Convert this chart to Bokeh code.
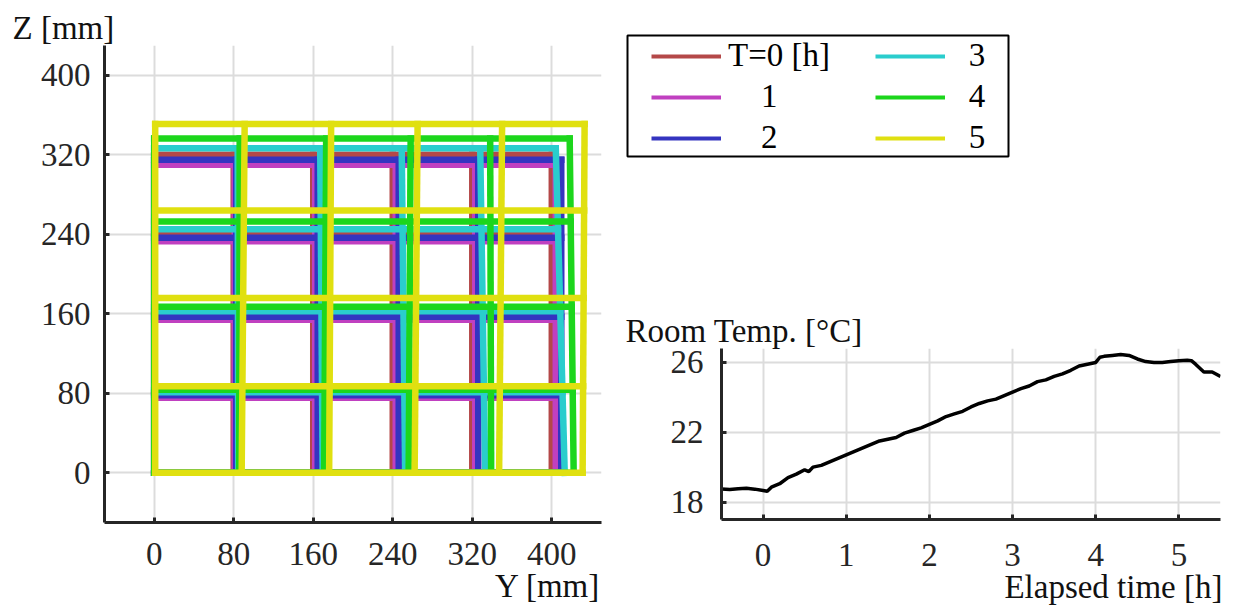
from bokeh.plotting import figure
from bokeh.models import Range1d, FixedTicker, Title, Legend, LegendItem
from bokeh.layouts import row, column
from bokeh.embed import file_html
from bokeh.resources import INLINE

FONT = "Liberation Serif"
INK = "#262626"

# ---------------- data: deformed frame (left panel) ----------------
series_labels = ["T=0 [h]", "1", "2", "3", "4", "5"]
series_colors = ["#b44848", "#c040c0", "#3434c0", "#2acdcd", "#1cd61c", "#e0e010"]

# Y [mm] of each vertical frame line at its bottom (Z=0) and at its top floor
t0_cols_bottom = [0, 80, 160, 240, 320, 400]
t0_cols_top = [0, 80, 160, 240, 320, 400]
t1_cols_bottom = [0, 81, 162, 243, 323, 404]
t1_cols_top = [0, 81, 162, 243, 323, 404]
t2_cols_bottom = [0, 82.5, 164.5, 246, 326, 409.5]
t2_cols_top = [0, 82.5, 164.5, 246, 326, 409.5]
t3_cols_bottom = [0, 84.5, 169.5, 252.5, 333, 413]
t3_cols_top = [0, 84, 167, 249, 328, 404]
t4_cols_bottom = [0, 85.5, 171, 256, 339, 422]
t4_cols_top = [0, 86, 173, 258, 338, 418]
t5_cols_bottom = [1, 88, 176, 262, 347, 431]
t5_cols_top = [1, 91, 178, 265, 350, 433]

# Z [mm] of each floor line
t0_floors = [0, 80, 160, 240, 320]
t1_floors = [0, 75.5, 154, 233, 310]
t2_floors = [0, 78, 157, 236.5, 315]
t3_floors = [0, 81, 162.5, 245, 326.5]
t4_floors = [0, 83.5, 167, 253, 336.5]
t5_floors = [0, 87, 176, 264, 351]

yz_ticks = [0, 80, 160, 240, 320, 400]

# ---------------- data: room temperature (right panel) ----------------
time_h = [-0.5, -0.4, -0.3, -0.2, -0.1, 0.0, 0.05, 0.1, 0.2, 0.3, 0.4, 0.5, 0.55,
          0.6, 0.7, 0.8, 0.9, 1.0, 1.1, 1.2, 1.3, 1.4, 1.5, 1.6, 1.7, 1.8, 1.9,
          2.0, 2.1, 2.2, 2.3, 2.4, 2.5, 2.6, 2.7, 2.8, 2.9, 3.0, 3.1, 3.2, 3.3,
          3.4, 3.5, 3.6, 3.7, 3.8, 3.9, 4.0, 4.05, 4.1, 4.2, 4.3, 4.4, 4.5, 4.6,
          4.7, 4.8, 4.9, 5.0, 5.1, 5.15, 5.2, 5.3, 5.4, 5.5]
room_temp = [18.75, 18.72, 18.76, 18.79, 18.74, 18.66, 18.62, 18.85, 19.05, 19.4,
             19.6, 19.85, 19.75, 20.0, 20.1, 20.3, 20.5, 20.7, 20.9, 21.1, 21.3,
             21.5, 21.6, 21.7, 21.95, 22.1, 22.25, 22.45, 22.65, 22.9, 23.05, 23.2,
             23.45, 23.65, 23.8, 23.9, 24.1, 24.3, 24.5, 24.65, 24.9, 25.0, 25.2,
             25.35, 25.55, 25.8, 25.9, 26.0, 26.3, 26.35, 26.4, 26.45, 26.4, 26.2,
             26.05, 26.0, 26.0, 26.05, 26.1, 26.12, 26.1, 25.9, 25.45, 25.45, 25.2]
temp_x_ticks = [0, 1, 2, 3, 4, 5]
temp_y_ticks = [18, 22, 26]


def style(p, xticks, yticks, lstand_x, lstand_y):
    for ax in (p.xaxis[0], p.yaxis[0]):
        ax.axis_line_width = 3
        ax.axis_line_color = INK
        ax.major_tick_in = 5
        ax.major_tick_out = 0
        ax.major_tick_line_width = 3
        ax.major_tick_line_color = INK
        ax.minor_tick_line_color = None
        ax.major_label_text_font = FONT
        ax.major_label_text_font_size = "33px"
        ax.major_label_text_color = INK
    p.xaxis[0].ticker = FixedTicker(ticks=xticks)
    p.yaxis[0].ticker = FixedTicker(ticks=yticks)
    p.xaxis[0].major_label_standoff = lstand_x
    p.yaxis[0].major_label_standoff = lstand_y
    p.grid.grid_line_color = "#dcdcdc"
    p.grid.grid_line_width = 2
    p.outline_line_color = None
    p.background_fill_color = "white"
    p.border_fill_color = "white"


def side_title(p, text, side, align, offset):
    t = Title(text=text, align=align, offset=offset, standoff=0,
              vertical_align="bottom" if side == "above" else "top",
              text_font=FONT, text_font_size="33px", text_font_style="normal",
              text_color="#111111")
    p.add_layout(t, side)


def frame_segments(cb, ct, fz):
    z0, ztop = fz[0], fz[-1]
    x0s, y0s, x1s, y1s = [], [], [], []
    for b, t in zip(cb, ct):
        x0s.append(b); y0s.append(z0); x1s.append(t); y1s.append(ztop)
    for z in fz:
        f = (z - z0) / (ztop - z0)
        x0s.append(cb[0] + (ct[0] - cb[0]) * f); y0s.append(z)
        x1s.append(cb[-1] + (ct[-1] - cb[-1]) * f); y1s.append(z)
    return dict(x0=x0s, y0=y0s, x1=x1s, y1=y1s)


frames = [
    frame_segments(t0_cols_bottom, t0_cols_top, t0_floors),
    frame_segments(t1_cols_bottom, t1_cols_top, t1_floors),
    frame_segments(t2_cols_bottom, t2_cols_top, t2_floors),
    frame_segments(t3_cols_bottom, t3_cols_top, t3_floors),
    frame_segments(t4_cols_bottom, t4_cols_top, t4_floors),
    frame_segments(t5_cols_bottom, t5_cols_top, t5_floors),
]

# ---------------- left panel ----------------
p1 = figure(width=615, height=609, x_range=Range1d(-50, 450), y_range=Range1d(-50, 430),
            output_backend="svg", toolbar_location=None, title=None,
            min_border_left=104, min_border_right=14, min_border_top=45, min_border_bottom=87)
style(p1, yz_ticks, yz_ticks, 20, 14)

for color, seg in zip(series_colors, frames):
    p1.segment(x0=seg["x0"], y0=seg["y0"], x1=seg["x1"], y1=seg["y1"],
               line_color=color, line_width=6.5, line_cap="square")

side_title(p1, "Z [mm]", "above", "left", -92)
side_title(p1, "Y [mm]", "below", "right", 1)

# ---------------- legend panel ----------------
pl = figure(width=619, height=180, x_range=Range1d(0, 1), y_range=Range1d(0, 1),
            x_axis_type=None, y_axis_type=None, output_backend="svg",
            toolbar_location=None, title=None,
            min_border_left=12, min_border_right=226, min_border_top=35, min_border_bottom=24)
pl.outline_line_color = "black"
pl.outline_line_width = 2
pl.background_fill_color = "white"
pl.border_fill_color = "white"

NB = "\u00a0"
legend_texts = ["T=0 [h]" + NB * 5, NB * 4 + "1", NB * 4 + "2", NB * 2 + "3", NB * 2 + "4", NB * 2 + "5"]
items = []
for txt, color, seg in zip(legend_texts, series_colors, frames):
    r = pl.segment(x0=seg["x0"], y0=seg["y0"], x1=seg["x1"], y1=seg["y1"],
                   line_color=color, line_width=4, visible=False)
    items.append(LegendItem(label=txt, renderers=[r]))
leg = Legend(items=items, location=(24, 0), ncols=2, glyph_width=70, glyph_height=20,
             label_standoff=7, spacing=4, padding=0, margin=0,
             border_line_alpha=0, background_fill_alpha=0, inactive_fill_alpha=0,
             label_text_font=FONT, label_text_font_size="33px", label_text_color="black")
pl.add_layout(leg)

# ---------------- temperature panel ----------------
p2 = figure(width=619, height=429, x_range=Range1d(-0.5, 5.5), y_range=Range1d(17, 26.8),
            output_backend="svg", toolbar_location=None, title=None,
            min_border_left=106, min_border_right=14, min_border_top=168, min_border_bottom=90)
style(p2, temp_x_ticks, temp_y_ticks, 24, 18)
p2.line(time_h, room_temp, line_color="black", line_width=3.5)

side_title(p2, "Room Temp. [\u00b0C]", "above", "left", -96)
side_title(p2, "Elapsed time [h]", "below", "right", -2)

layout = row(p1, column(row(pl), row(p2)))
open("out.html", "w").write(file_html(layout, INLINE))
